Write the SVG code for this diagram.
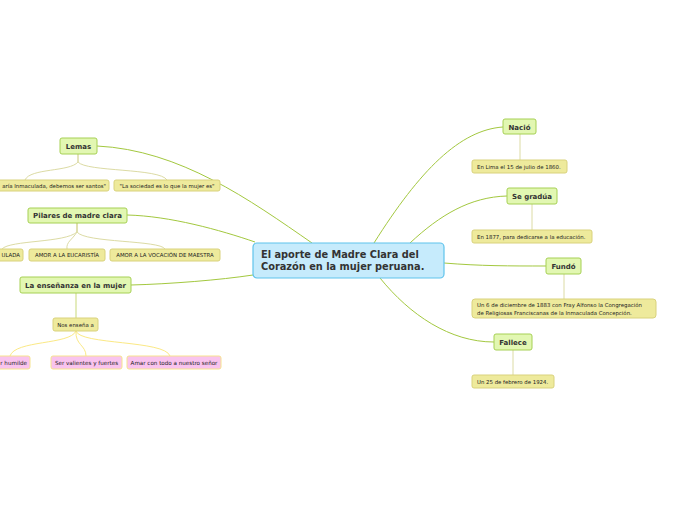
<svg xmlns="http://www.w3.org/2000/svg" width="696" height="520" viewBox="0 0 696 520">
<style>
text{font-family:"DejaVu Sans","Verdana",sans-serif;fill:#333}
.main rect{fill:#e2f7b2;stroke:#a6d054;stroke-width:1}
.main text{font-size:7px;font-weight:bold;text-anchor:middle}
.leaf rect{fill:#eeea9c;stroke:#d9d27c;stroke-width:1}
.leaf text{font-size:5.4px;fill:#222}
.pink rect{fill:#f9c3ee;stroke:#f6e38e;stroke-width:1}
.pink text{font-size:5.6px;text-anchor:middle;fill:#222}
.c1{fill:none;stroke:#a3c83f;stroke-width:1}
.c2{fill:none;stroke:#dcdba4;stroke-width:1}
.c3{fill:none;stroke:#fbe985;stroke-width:1}
.c4{fill:none;stroke:#c9d97a;stroke-width:1}
</style>
<rect width="696" height="520" fill="#ffffff"/>
<g id="connectors">
<path class="c1" d="M312,243 C250,200 180,150 97,146"/>
<path class="c1" d="M255,242 C220,230 170,216 127,215"/>
<path class="c1" d="M253,275 C220,280 170,284 131,285"/>
<path class="c1" d="M374,243 C420,170 460,130 503,127"/>
<path class="c1" d="M410,243 C440,215 470,197 507,196"/>
<path class="c1" d="M444,263 C480,266 510,266 546,266"/>
<path class="c1" d="M380,278 C410,315 450,342 494,342"/>
<path class="c2" d="M78,154 L78,162 C70,172 30,168 25,180"/>
<path class="c2" d="M78,154 L78,162 C86,172 160,168 167,180"/>
<path class="c2" d="M77,223 L77,232 C65,243 10,240 2,249"/>
<path class="c2" d="M77,223 L77,232 C72,240 66,242 67,249"/>
<path class="c2" d="M77,223 L77,232 C85,243 160,240 165,249"/>
<path class="c4" d="M76,293 L76,318"/>
<path class="c3" d="M76,331 C70,345 15,340 10,356"/>
<path class="c3" d="M76,331 C75,345 86,345 86,356"/>
<path class="c3" d="M76,331 C80,345 165,340 170,356"/>
<path class="c2" d="M520,134 L520,160"/>
<path class="c2" d="M532,204 L532,230"/>
<path class="c2" d="M564,274 L564,299"/>
<path class="c2" d="M513,350 L513,375"/>
</g>
<g id="center">
<rect x="253" y="243" width="191" height="35" rx="4" fill="#c6ebfc" stroke="#5fc3ec" stroke-width="1.2"/>
<text x="261" y="258" font-size="9.8" font-weight="bold" fill="#111">El aporte de Madre Clara del</text>
<text x="261" y="270" font-size="9.8" font-weight="bold" fill="#111">Corazón en la mujer peruana.</text>
</g>
<g id="lemas" class="main"><rect x="60" y="138" width="37" height="16" rx="2"/><text x="78.5" y="148.5">Lemas</text></g>
<g id="lema1" class="leaf"><rect x="-80" y="180" width="189" height="11" rx="2"/><text x="106" y="187.5" text-anchor="end">aría Inmaculada, debemos ser santos"</text></g>
<g id="lema2" class="leaf"><rect x="114" y="180" width="106" height="11" rx="2"/><text x="167" y="187.5" text-anchor="middle">"La sociedad es lo que la mujer es"</text></g>
<g id="pilares" class="main"><rect x="28" y="208" width="99" height="15" rx="2"/><text x="77.5" y="218">Pilares de madre clara</text></g>
<g id="pilar1" class="leaf"><rect x="-40" y="249" width="63" height="12" rx="2"/><text x="20" y="257" text-anchor="end">ULADA</text></g>
<g id="pilar2" class="leaf"><rect x="29" y="249" width="76" height="12" rx="2"/><text x="67" y="257" text-anchor="middle">AMOR A LA EUCARISTÍA</text></g>
<g id="pilar3" class="leaf"><rect x="110" y="249" width="110" height="12" rx="2"/><text x="165" y="257" text-anchor="middle">AMOR A LA VOCACIÓN DE MAESTRA</text></g>
<g id="ensenanza" class="main"><rect x="20" y="277" width="111" height="16" rx="2"/><text x="75.5" y="287.5">La enseñanza en la mujer</text></g>
<g id="nos" class="leaf"><rect x="53" y="318" width="45" height="13" rx="2"/><text x="75.5" y="326.5" text-anchor="middle">Nos enseña a</text></g>
<g id="p1" class="pink"><rect x="-30" y="356" width="60" height="13" rx="2"/><text x="27" y="364.5" style="text-anchor:end">r humilde</text></g>
<g id="p2" class="pink"><rect x="51" y="356" width="71" height="13" rx="2"/><text x="86.5" y="364.5">Ser valientes y fuertes</text></g>
<g id="p3" class="pink"><rect x="127" y="356" width="94" height="13" rx="2"/><text x="174" y="364.5">Amar con todo a nuestro señor</text></g>
<g id="nacio" class="main"><rect x="503" y="119" width="33" height="15" rx="2"/><text x="519.5" y="129.5">Nació</text></g>
<g id="nacio1" class="leaf"><rect x="472" y="160" width="95" height="13" rx="2"/><text x="477" y="168.5">En Lima el 15 de julio de 1860.</text></g>
<g id="gradua" class="main"><rect x="507" y="188" width="50" height="16" rx="2"/><text x="532" y="198.5">Se gradúa</text></g>
<g id="gradua1" class="leaf"><rect x="472" y="230" width="120" height="13" rx="2"/><text x="477" y="238.5">En 1877, para dedicarse a la educación.</text></g>
<g id="fundo" class="main"><rect x="546" y="258" width="35" height="16" rx="2"/><text x="563.5" y="268.5">Fundó</text></g>
<g id="fundo1" class="leaf"><rect x="472" y="299" width="184" height="19" rx="3"/><text x="477" y="307">Un 6 de diciembre de 1883 con Fray Alfonso la Congregación</text><text x="477" y="314.5">de Religiosas Franciscanas de la Inmaculada Concepción.</text></g>
<g id="fallece" class="main"><rect x="494" y="334" width="38" height="16" rx="2"/><text x="513" y="344.5">Fallece</text></g>
<g id="fallece1" class="leaf"><rect x="472" y="375" width="82" height="13" rx="2"/><text x="477" y="383.5">Un 25 de febrero de 1924.</text></g>
</svg>
